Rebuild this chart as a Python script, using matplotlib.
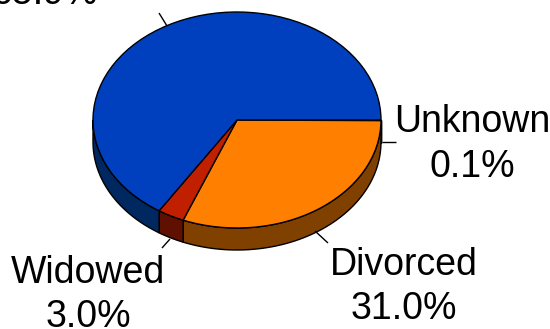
import numpy as np
import matplotlib
matplotlib.use("Agg")
import matplotlib.pyplot as plt

categories = ["Unknown", "Divorced", "Widowed", "Married"]
values = [0.1, 31.0, 3.0, 65.9]
top_colors = ["#FF8000", "#FF8000", "#C02000", "#0040BF"]
side_colors = ["#804000", "#804000", "#601000", "#002860"]
value_labels = ["0.1%", "31.0%", "3.0%", "65.9%"]

W, H = 550, 329
CX, CY, RX, RY, DEPTH = 237.0, 120.0, 144.0, 108.0, 22.0

plt.rcParams["font.family"] = ["Liberation Sans", "DejaVu Sans"]
fig = plt.figure(figsize=(W / 100, H / 100), dpi=100)
ax = fig.add_axes([0, 0, 1, 1])


def px(x, y):
    return (x - CX) / RX, (CY - y) / RY


d = DEPTH / RY
edges = 360 * np.cumsum([0] + values) / sum(values)

# side wall of the visible (front) half
for a0, a1, c in zip(edges[:-1], edges[1:], side_colors):
    a1v = min(a1, 180)
    if a0 >= 180:
        continue
    t = np.radians(np.linspace(a0, a1v, 60))
    xs = np.cos(t)
    ys = -np.sin(t)
    ax.fill(np.r_[xs, xs[::-1]], np.r_[ys, ys[::-1] - d], facecolor=c,
            edgecolor="black", linewidth=1.0, zorder=1)

ax.pie(values, startangle=0, counterclock=False, colors=top_colors,
       radius=1, center=(0, 0), frame=True,
       wedgeprops=dict(edgecolor="black", linewidth=1.0, zorder=2))

ax.set_aspect("auto")
ax.set_xlim((0 - CX) / RX, (W - CX) / RX)
ax.set_ylim((CY - H) / RY, CY / RY)
ax.axis("off")

# leader lines
leaders = {
    "Unknown": ((382, 142), (396, 142)),
    "Divorced": ((315, 231), (328, 243)),
    "Widowed": ((170, 239), (162, 248)),
    "Married": ((167, 26), (159, 13)),
}
for name, (p, q) in leaders.items():
    a, b = px(*p), px(*q)
    ax.plot([a[0], b[0]], [a[1], b[1]], color="black", lw=1.0, zorder=3,
            solid_capstyle="butt")

# labels: name line and value line centres in pixels
label_pos = {
    "Unknown": (472, 122, 167),
    "Divorced": (404, 265, 309),
    "Widowed": (88, 273, 317),
    "Married": (44, -51, -6),
}
for name, val in zip(categories, value_labels):
    x, y1, y2 = label_pos[name]
    a = px(x, y1)
    b = px(x, y2)
    ax.text(a[0], a[1], name, ha="center", va="center", fontsize=27, color="black")
    ax.text(b[0], b[1], val, ha="center", va="center", fontsize=27, color="black")

fig.savefig("out.png", dpi=100, facecolor="white")
